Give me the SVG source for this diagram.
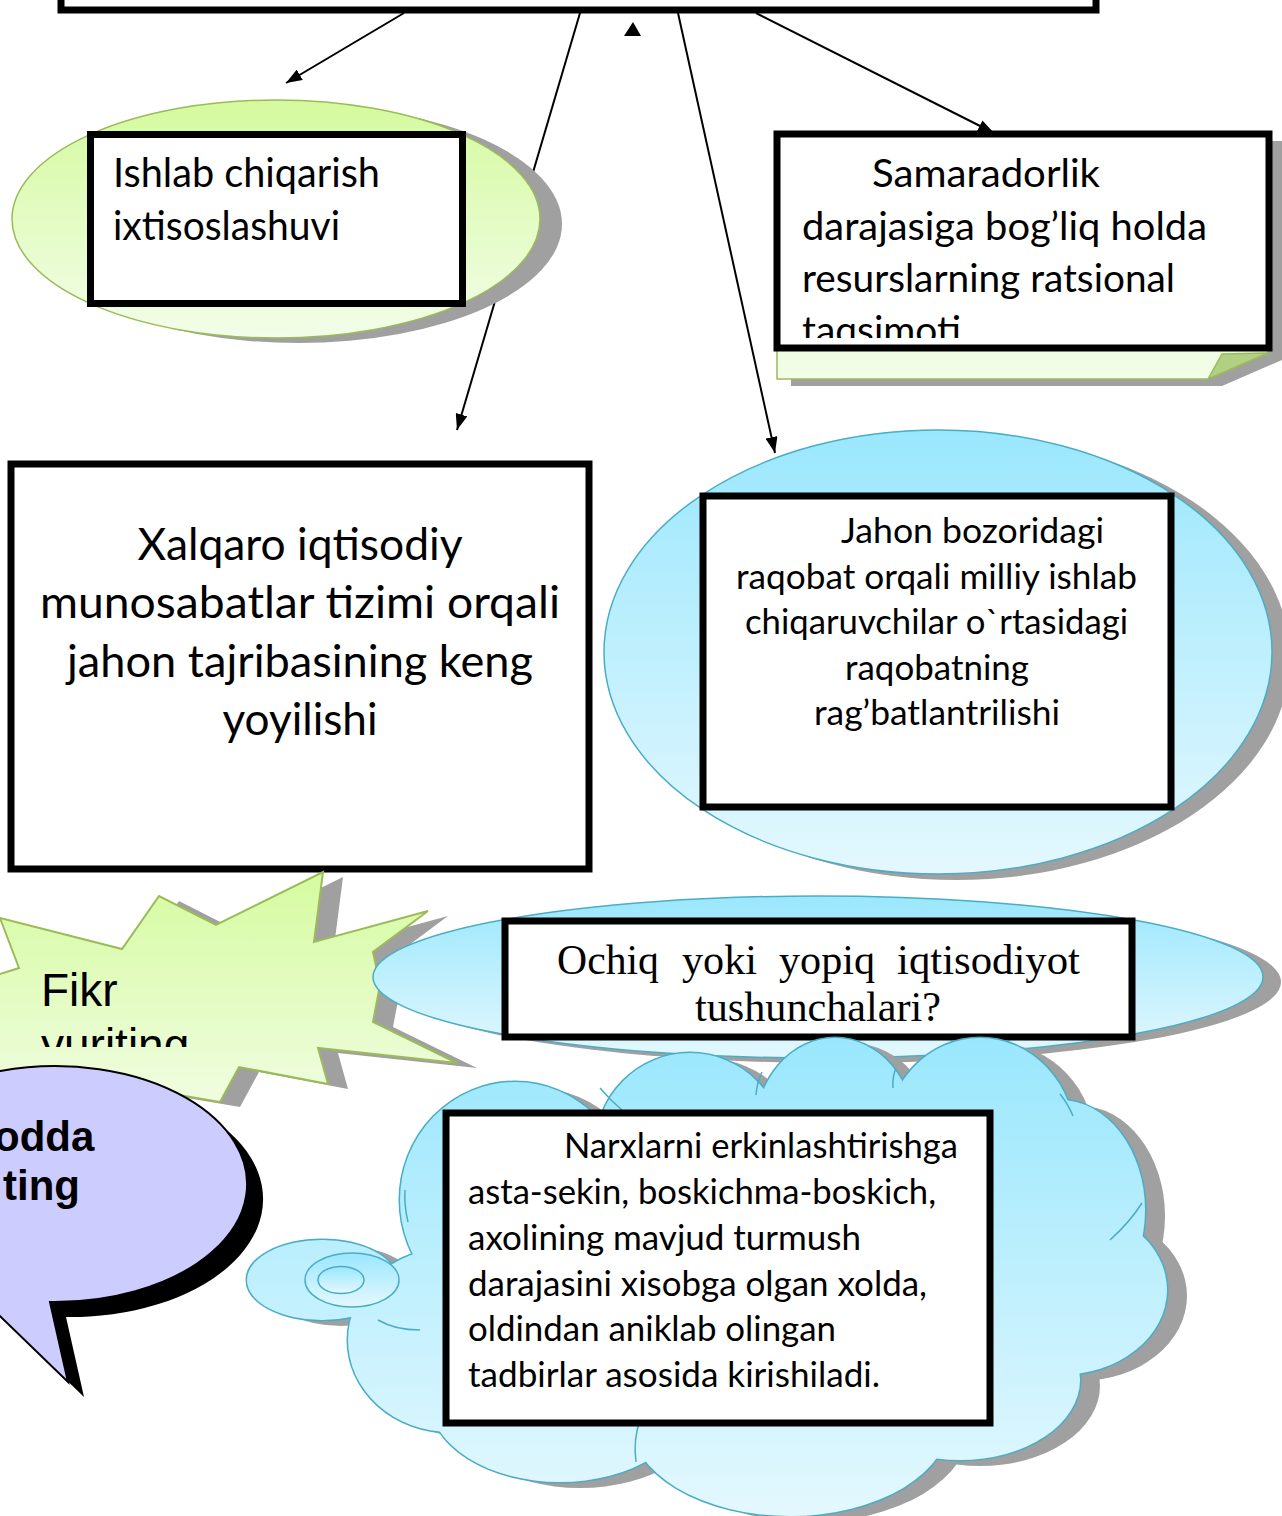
<svg xmlns="http://www.w3.org/2000/svg" width="1282" height="1516" viewBox="0 0 1282 1516">
<defs>
<linearGradient id="gGreen" x1="0" y1="0" x2="0" y2="1"><stop offset="0" stop-color="#d4fa9e"/><stop offset="1" stop-color="#f3fde9"/></linearGradient>
<linearGradient id="gBlue" x1="0" y1="0" x2="0" y2="1"><stop offset="0" stop-color="#9ae7fd"/><stop offset="1" stop-color="#e4f8fe"/></linearGradient>
<linearGradient id="gCloud" gradientUnits="userSpaceOnUse" x1="0" y1="1040" x2="0" y2="1516"><stop offset="0" stop-color="#9ae7fd"/><stop offset="1" stop-color="#e4f8fe"/></linearGradient>
<linearGradient id="gStar" gradientUnits="userSpaceOnUse" x1="0" y1="872" x2="0" y2="1102"><stop offset="0" stop-color="#d5fba0"/><stop offset="1" stop-color="#f0fde0"/></linearGradient>
<marker id="arr" markerUnits="userSpaceOnUse" markerWidth="16" markerHeight="12" refX="16" refY="6" orient="auto"><path d="M0,0 L16,6 L0,12 z" fill="#000"/></marker>
<clipPath id="clipSam"><rect x="778" y="137" width="490" height="201"/></clipPath>
<clipPath id="clipFikr"><rect x="0" y="900" width="320" height="147"/></clipPath>
<style>
.box{fill:#fff;stroke:#000;stroke-width:7}
.shadow{fill:#a0a0a0}
.gE{fill:url(#gGreen);stroke:#9bbb59;stroke-width:1.5}
.bE{fill:url(#gBlue);stroke:#4bacc6;stroke-width:1.5}
.cal{font-family:Lato,"Open Sans",sans-serif;fill:#000}
.conn{stroke:#000;stroke-width:2;fill:none;marker-end:url(#arr)}
.cs{fill:none;stroke:#4bacc6;stroke-width:3}
.cf{fill:url(#gCloud)}
.ci{fill:none;stroke:#4bacc6;stroke-width:1.5}
</style>
</defs>
<rect width="1282" height="1516" fill="#fff"/>

<g id="top-node">
<rect class="box" x="61" y="-60" width="1035" height="70"/>
</g>

<g id="connectors">
<line class="conn" x1="404" y1="13" x2="286" y2="83"/>
<line class="conn" x1="580" y1="13" x2="457" y2="430"/>
<line class="conn" x1="678" y1="13" x2="775" y2="453"/>
<line class="conn" x1="756" y1="13" x2="994" y2="133"/>
<polygon points="624,36 641,36 633,22" fill="#000"/>
</g>

<g id="node-ishlab">
<ellipse class="shadow" cx="298" cy="224" rx="264" ry="119"/>
<ellipse class="gE" cx="276" cy="219" rx="264" ry="119"/>
<rect class="box" x="90.5" y="134.5" width="372" height="169"/>
<text class="cal" font-size="40"><tspan x="113" y="187" textLength="267" lengthAdjust="spacingAndGlyphs">Ishlab chiqarish</tspan><tspan x="113" y="240" textLength="227" lengthAdjust="spacingAndGlyphs">ixtisoslashuvi</tspan></text>
</g>

<g id="node-samaradorlik">
<polygon class="shadow" points="791,141 1282,141 1282,360 1222,386 791,386"/>
<polygon points="777,134 1268,134 1268,353 1208,379 777,379" fill="url(#gGreen)" stroke="#9bbb59" stroke-width="1.5"/>
<polygon points="1208,379 1222,354 1268,353" fill="#b2d084" stroke="#9bbb59" stroke-width="1.5"/>
<rect class="box" x="777" y="134" width="492" height="214"/>
<g clip-path="url(#clipSam)">
<text class="cal" font-size="39"><tspan x="872" y="187" textLength="228" lengthAdjust="spacingAndGlyphs">Samaradorlik</tspan><tspan x="802" y="240" textLength="405" lengthAdjust="spacingAndGlyphs">darajasiga bog’liq holda</tspan><tspan x="802" y="292" textLength="373" lengthAdjust="spacingAndGlyphs">resurslarning ratsional</tspan><tspan x="802" y="344" textLength="159" lengthAdjust="spacingAndGlyphs">taqsimoti</tspan></text>
</g>
</g>

<g id="node-xalqaro">
<rect class="box" x="11" y="464" width="578" height="405"/>
<text class="cal" font-size="45" text-anchor="middle"><tspan x="300" y="560" textLength="325" lengthAdjust="spacingAndGlyphs">Xalqaro iqtisodiy</tspan><tspan x="300" y="618" textLength="520" lengthAdjust="spacingAndGlyphs">munosabatlar tizimi  orqali</tspan><tspan x="300" y="677" textLength="466" lengthAdjust="spacingAndGlyphs">jahon tajribasining keng</tspan><tspan x="300" y="735" textLength="155" lengthAdjust="spacingAndGlyphs">yoyilishi</tspan></text>
</g>

<g id="node-jahon">
<ellipse class="shadow" cx="956" cy="658" rx="334" ry="222"/>
<ellipse class="bE" cx="938" cy="652" rx="334" ry="222"/>
<rect class="box" x="703" y="496" width="468" height="311"/>
<text class="cal" font-size="35"><tspan x="841" y="543" textLength="263" lengthAdjust="spacingAndGlyphs">Jahon  bozoridagi</tspan><tspan x="736" y="589" textLength="401" lengthAdjust="spacingAndGlyphs">raqobat orqali milliy ishlab</tspan><tspan x="745" y="634" textLength="383" lengthAdjust="spacingAndGlyphs">chiqaruvchilar o`rtasidagi</tspan><tspan x="845" y="680" textLength="184" lengthAdjust="spacingAndGlyphs">raqobatning</tspan><tspan x="814" y="725" textLength="246" lengthAdjust="spacingAndGlyphs">rag’batlantrilishi</tspan></text>
</g>

<g id="node-fikr">
<polygon class="shadow" transform="translate(20,5)" points="0,918 122,949 159,896 216,925 323,872 314,942 428,911 373,952 380,985 373,1022 457,1063 318,1048 328,1084 239,1067 220,1102 120,1085 20,1110 -40,1060 -50,990 19,968"/>
<polygon points="0,918 122,949 159,896 216,925 323,872 314,942 428,911 373,952 380,985 373,1022 457,1063 318,1048 328,1084 239,1067 220,1102 120,1085 20,1110 -40,1060 -50,990 19,968" fill="url(#gStar)" stroke="#9bbb59" stroke-width="2"/>
<g clip-path="url(#clipFikr)">
<text font-family="'Liberation Sans',Arial,sans-serif" font-size="46" fill="#000"><tspan x="41" y="1006">Fikr</tspan><tspan x="41" y="1061">yuriting</tspan></text>
</g>
</g>

<g id="node-ochiq">
<ellipse class="shadow" cx="836" cy="982" rx="445" ry="81"/>
<ellipse class="bE" cx="818" cy="977" rx="445" ry="81"/>
<rect class="box" x="505" y="921" width="627" height="116"/>
<text font-family="'Liberation Serif','Times New Roman',serif" font-size="42" fill="#000"><tspan x="557" y="974" textLength="102" lengthAdjust="spacingAndGlyphs">Ochiq</tspan><tspan x="682" y="974" textLength="75" lengthAdjust="spacingAndGlyphs">yoki</tspan><tspan x="779" y="974" textLength="96" lengthAdjust="spacingAndGlyphs">yopiq</tspan><tspan x="897" y="974" textLength="183" lengthAdjust="spacingAndGlyphs">iqtisodiyot</tspan><tspan x="695" y="1021" textLength="246" lengthAdjust="spacingAndGlyphs">tushunchalari?</tspan></text>
</g>

<g id="node-bubble">
<path d="M50,1302 L68,1382 L-26,1291 A192,118 0 1 1 50,1302 Z" transform="translate(16,15)" fill="#000"/>
<path d="M50,1302 L68,1382 L-26,1291 A192,118 0 1 1 50,1302 Z" fill="#ccccff" stroke="#000" stroke-width="2"/>
<text font-family="'Liberation Sans',Arial,sans-serif" font-weight="bold" font-size="42" fill="#000"><tspan x="-6" y="1151">odda</tspan><tspan x="3" y="1200">ting</tspan></text>
</g>

<g id="node-narx">
<g class="shadow" transform="translate(20,6)">
<ellipse cx="515" cy="1200" rx="115" ry="118"/><ellipse cx="690" cy="1150" rx="95" ry="97"/><ellipse cx="835" cy="1132" rx="80" ry="94"/><ellipse cx="980" cy="1140" rx="95" ry="102"/><ellipse cx="1060" cy="1210" rx="85" ry="110"/><ellipse cx="1060" cy="1290" rx="107" ry="85"/><ellipse cx="960" cy="1380" rx="120" ry="80"/><ellipse cx="790" cy="1420" rx="160" ry="96"/><ellipse cx="560" cy="1400" rx="130" ry="82"/><ellipse cx="450" cy="1340" rx="102" ry="92"/><ellipse cx="322" cy="1280" rx="75" ry="40"/>
</g>
<g class="cs">
<ellipse cx="515" cy="1200" rx="115" ry="118"/><ellipse cx="690" cy="1150" rx="95" ry="97"/><ellipse cx="835" cy="1132" rx="80" ry="94"/><ellipse cx="980" cy="1140" rx="95" ry="102"/><ellipse cx="1060" cy="1210" rx="85" ry="110"/><ellipse cx="1060" cy="1290" rx="107" ry="85"/><ellipse cx="960" cy="1380" rx="120" ry="80"/><ellipse cx="790" cy="1420" rx="160" ry="96"/><ellipse cx="560" cy="1400" rx="130" ry="82"/><ellipse cx="450" cy="1340" rx="102" ry="92"/><ellipse cx="322" cy="1280" rx="75" ry="40"/>
</g>
<g class="cf">
<ellipse cx="515" cy="1200" rx="115" ry="118"/><ellipse cx="690" cy="1150" rx="95" ry="97"/><ellipse cx="835" cy="1132" rx="80" ry="94"/><ellipse cx="980" cy="1140" rx="95" ry="102"/><ellipse cx="1060" cy="1210" rx="85" ry="110"/><ellipse cx="1060" cy="1290" rx="107" ry="85"/><ellipse cx="960" cy="1380" rx="120" ry="80"/><ellipse cx="790" cy="1420" rx="160" ry="96"/><ellipse cx="560" cy="1400" rx="130" ry="82"/><ellipse cx="450" cy="1340" rx="102" ry="92"/><ellipse cx="322" cy="1280" rx="75" ry="40"/><ellipse cx="760" cy="1270" rx="320" ry="170"/>
</g>
<g class="ci">
<path d="M600,1088 Q610,1100 622,1110"/>
<path d="M762,1072 Q757,1082 756,1095"/>
<path d="M896,1068 Q892,1078 893,1088"/>
<path d="M1060,1094 Q1068,1104 1073,1116"/>
<path d="M1142,1203 Q1130,1222 1110,1240"/>
<path d="M636,1462 Q633,1440 640,1420"/>
<path d="M420,1330 Q395,1330 378,1320"/>
<path d="M408,1222 Q404,1205 405,1190"/>
</g>
<ellipse class="bE" cx="352" cy="1280" rx="47" ry="27"/>
<ellipse class="bE" cx="341" cy="1280" rx="23" ry="13.5"/>
<rect class="box" x="446" y="1113" width="544" height="310"/>
<text class="cal" font-size="35"><tspan x="564" y="1158" textLength="394" lengthAdjust="spacingAndGlyphs">Narxlarni erkinlashtirishga</tspan><tspan x="468" y="1204" textLength="468" lengthAdjust="spacingAndGlyphs">asta-sekin, boskichma-boskich,</tspan><tspan x="468" y="1250" textLength="393" lengthAdjust="spacingAndGlyphs">axolining mavjud turmush</tspan><tspan x="468" y="1296" textLength="459" lengthAdjust="spacingAndGlyphs">darajasini xisobga olgan xolda,</tspan><tspan x="468" y="1341" textLength="368" lengthAdjust="spacingAndGlyphs">oldindan aniklab olingan</tspan><tspan x="468" y="1387" textLength="412" lengthAdjust="spacingAndGlyphs">tadbirlar asosida kirishiladi.</tspan></text>
</g>
</svg>
